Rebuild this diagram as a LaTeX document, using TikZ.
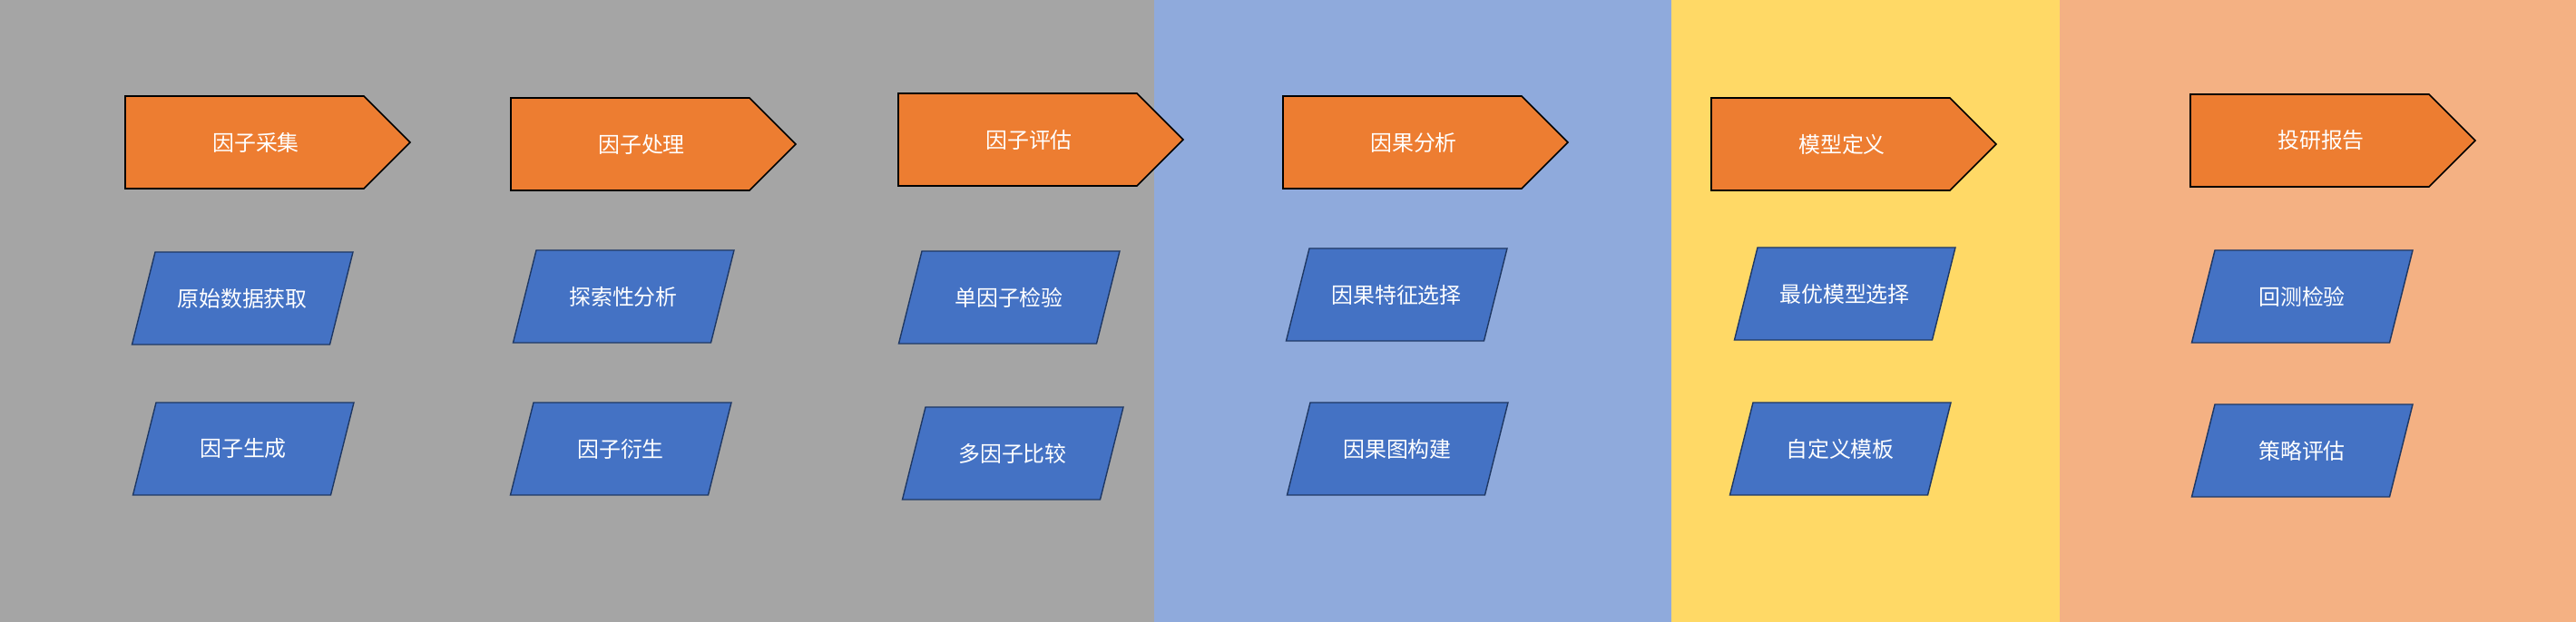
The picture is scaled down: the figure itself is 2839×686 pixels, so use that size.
\documentclass[tikz,border=0pt]{standalone}
\usepackage{fontspec}
\newfontfamily\cjk{Noto Sans CJK SC}

\definecolor{bandgray}{HTML}{A5A5A5}
\definecolor{bandblue}{HTML}{8FAADC}
\definecolor{bandyellow}{HTML}{FFD966}
\definecolor{bandsalmon}{HTML}{F4B183}
\definecolor{stageorange}{HTML}{ED7D31}
\definecolor{taskblue}{HTML}{4472C4}
\definecolor{taskedge}{HTML}{1F3864}

\tikzset{
    stage/.style={fill=stageorange, draw=black, line width=0.45pt, line join=miter},
    task/.style={fill=taskblue, draw=taskedge, line width=0.4pt, line join=miter},
    stagetext/.style={text=white, inner sep=0pt, font=\cjk\fontsize{6.8}{8}\selectfont},
    tasktext/.style={stagetext}
}

\begin{document}
\begin{tikzpicture}[x=0.01cm, y=-0.01cm]
    \useasboundingbox (0,0) rectangle (2839,686);

    % Background bands
    \fill[bandgray]   (0,0)    rectangle (1272,686);
    \fill[bandblue]   (1272,0) rectangle (1842,686);
    \fill[bandyellow] (1842,0) rectangle (2270,686);
    \fill[bandsalmon] (2270,0) rectangle (2839,686);

    % Stage arrows (home plates)
    \foreach \name/\x/\y/\txt in {collect/138/106/因子采集, process/563/108/因子处理,
        evaluate/990/103/因子评估, causal/1414/106/因果分析,
        model/1886/108/模型定义, report/2414/104/投研报告} {
        \draw[stage] (\x,\y) -- ++(263,0) -- ++(51,51) -- ++(-51,51) -- ++(-263,0) -- cycle;
        \node[stagetext] (\name) at (\x+144,\y+51) {\txt};
    }

    % Task boxes (parallelograms)
    \foreach \name/\x/\y/\txt in {rawdata/171/278/原始数据获取, gen/172/444/因子生成,
        explore/591/276/探索性分析, derive/588/444/因子衍生,
        single/1016/277/单因子检验, multi/1020/449/多因子比较,
        feature/1443/274/因果特征选择, graph/1444/444/因果图构建,
        best/1937/273/最优模型选择, custom/1932/444/自定义模板,
        backtest/2441/276/回测检验, strategy/2441/446/策略评估} {
        \draw[task] (\x,\y) -- ++(218,0) -- ++(-25.5,102) -- ++(-218,0) -- cycle;
        \node[tasktext] (\name) at (\x+96,\y+51) {\txt};
    }
\end{tikzpicture}
\end{document}
